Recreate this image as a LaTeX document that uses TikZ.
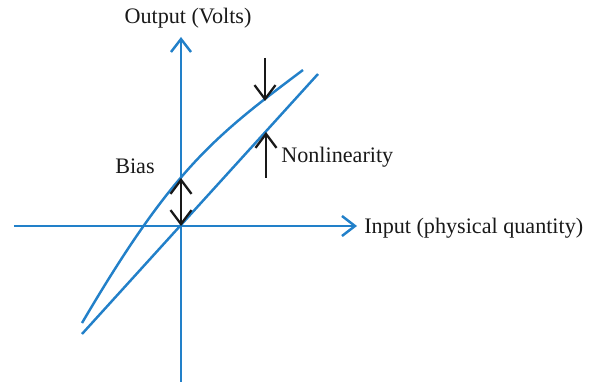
\documentclass[tikz,border=0pt]{standalone}
\usepackage{fontspec}
\setmainfont{Liberation Serif}
\usetikzlibrary{arrows.meta, positioning, calc}

\definecolor{axisblue}{RGB}{34,128,201}

\begin{document}
\begin{tikzpicture}[
		x=0.02cm, y=0.02cm,
		font=\fontsize{12.6}{15}\selectfont,
		% Style for the axes and the two response lines
		axis/.style={draw=axisblue, line width=1.4pt, -{Straight Barb[length=2.6mm, width=4mm]}},
		resp/.style={draw=axisblue, line width=1.4pt},
		% Style for the black marker arrows
		mark arrow/.style={draw=black!90, line width=1.3pt, -{Straight Barb[length=2.8mm, width=4.2mm]}},
		lbl/.style={inner sep=0pt, text=black!90}
		]
		
		% fix the margins
		\useasboundingbox (-181,-156) rectangle (421,226);
		
		% AXES
		\coordinate (O) at (0,0);
		\coordinate (ybot) at (0,-156);
		\coordinate (ytop) at (0,189);
		\coordinate (xleft) at (-167,0);
		\coordinate (xright) at (176,0);
		\draw[axis] (ybot) -- (ytop);
		\draw[axis] (xleft) -- (xright);
		\node[lbl] (ylabel) at (7,208) {Output (Volts)};
		\node[lbl, anchor=west] (xlabel) at (183,-2) {Input (physical quantity)};
		
		% IDEAL (linear) response and real response
		\coordinate (lin-a) at (-99,-108);
		\coordinate (lin-b) at (137,152);
		\draw[resp] (lin-a) -- (lin-b);
		\coordinate (real-a) at (-99,-97);
		\coordinate (real-b) at (122,156);
		\draw[resp] (real-a) .. controls (-9,56) and (32,88.5) .. (real-b);
		
		% BIAS marker
		\coordinate (bias-top) at (0,48);
		\draw[mark arrow, {Straight Barb[length=2.8mm, width=4.2mm]}-{Straight Barb[length=2.8mm, width=4.2mm]}] (O) -- (bias-top);
		\node[lbl] (bias) at (-46,60) {Bias};
		
		% NONLINEARITY markers
		\coordinate (nl-top) at (84,168);
		\coordinate (nl-curve) at (84,125);
		\coordinate (nl-bot) at (85,48);
		\coordinate (nl-line) at (85,94);
		\draw[mark arrow] (nl-top) -- (nl-curve);
		\draw[mark arrow] (nl-bot) -- (nl-line);
		\node[lbl, anchor=west] (nonlin) at (100,69) {Nonlinearity};
	\end{tikzpicture}
\end{document}
